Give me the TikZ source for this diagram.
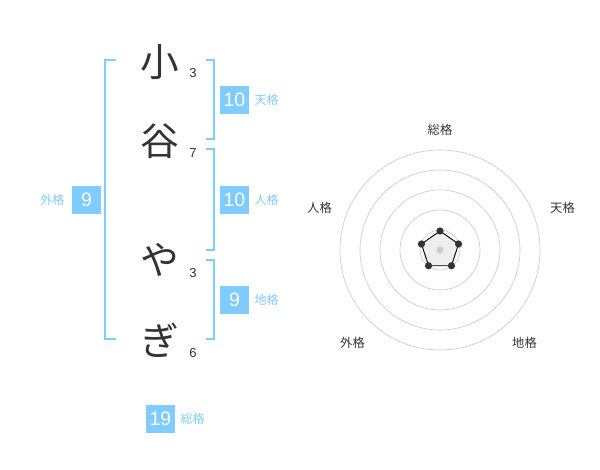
\documentclass[tikz,border=0pt]{standalone}
\usepackage{fontspec}
\usetikzlibrary{positioning}
\setmainfont{Liberation Sans}
\newfontfamily\jpfont{Noto Sans CJK JP}
\definecolor{sky}{HTML}{80CCFF}
\definecolor{ink}{HTML}{333333}
\definecolor{ring}{HTML}{CCCCCC}
\definecolor{area}{HTML}{EEEEEE}
\newcommand{\vertexdot}{circle [radius=3.6]}
\tikzset{
  kanji/.style={text=ink, inner sep=0pt, font=\jpfont\fontsize{29}{29}\selectfont},
  strokes/.style={text=ink, inner sep=0pt, font=\fontsize{9.8}{10}\selectfont},
  scorebox/.style={fill=sky, text=white, inner sep=0pt, minimum width=21.75pt, minimum height=21pt, font=\fontsize{14.6}{15}\selectfont},
  scorename/.style={text=sky, inner sep=0pt, font=\jpfont\fontsize{9}{9}\selectfont},
  axisname/.style={text=ink, inner sep=0pt, font=\jpfont\fontsize{9.2}{9}\selectfont},
  bracket/.style={sky, line width=1.5pt}
}

\begin{document}
\begin{tikzpicture}[x=0.75pt, y=-0.75pt]
      \useasboundingbox (0,0) rectangle (600,470);

      % name characters
      \node[kanji] (ko) at (160,62) {小};
      \node[kanji] (tani) at (160,141) {谷};
      \node[kanji] (ya) at (160,260) {や};
      \node[kanji] (gi) at (160,340) {ぎ};
      \node[strokes] (sko) at (193,73) {3};
      \node[strokes] (stani) at (193,153) {7};
      \node[strokes] (sya) at (193,273) {3};
      \node[strokes] (sgi) at (193,353) {6};

      % brackets
      \draw[bracket] (116,60) -- (105,60) -- (105,339) -- (116,339);
      \draw[bracket] (206,60) -- (214,60) -- (214,139) -- (206,139);
      \draw[bracket] (206,149) -- (214,149) -- (214,250) -- (206,250);
      \draw[bracket] (206,260) -- (214,260) -- (214,339) -- (206,339);

      % scores
      \node[scorebox] (ten) at (234.5,100) {10};
      \node[scorename, right=3.75pt of ten] {天格};
      \node[scorebox] (jin) at (234.5,200) {10};
      \node[scorename, right=3.75pt of jin] {人格};
      \node[scorebox] (chi) at (234.5,300) {9};
      \node[scorename, right=3.75pt of chi] {地格};
      \node[scorebox] (gai) at (86.5,200) {9};
      \node[scorename, left=5.25pt of gai] {外格};
      \node[scorebox] (sou) at (160.5,419) {19};
      \node[scorename, right=3.75pt of sou] {総格};

      % radar rings
      \coordinate (hub) at (440,250);
      \foreach \r in {20,40,60,80,100}
        \draw[ring, line width=0.5pt] (hub) circle [radius=\r];

      % radar values
      \path (hub) ++(-90:19) coordinate (vsou)
            (hub) ++(-18:19.5) coordinate (vten)
            (hub) ++(54:19.5) coordinate (vchi)
            (hub) ++(126:19.5) coordinate (vgai)
            (hub) ++(-162:19.5) coordinate (vjin);
      \draw[fill=area, line width=0.7pt] (vsou) -- (vten) -- (vchi) -- (vgai) -- (vjin) -- cycle;
      \fill[ring] (hub) \vertexdot;
      \foreach \v in {vsou,vten,vchi,vgai,vjin}
        \fill[ink] (\v) \vertexdot;

      % axis names
      \node[axisname] (asou) at (440,130) {総格};
      \node[axisname] (aten) at (562.5,208) {天格};
      \node[axisname] (achi) at (524.5,343) {地格};
      \node[axisname] (agai) at (352.5,343) {外格};
      \node[axisname] (ajin) at (319.5,208) {人格};
\end{tikzpicture}
\end{document}
